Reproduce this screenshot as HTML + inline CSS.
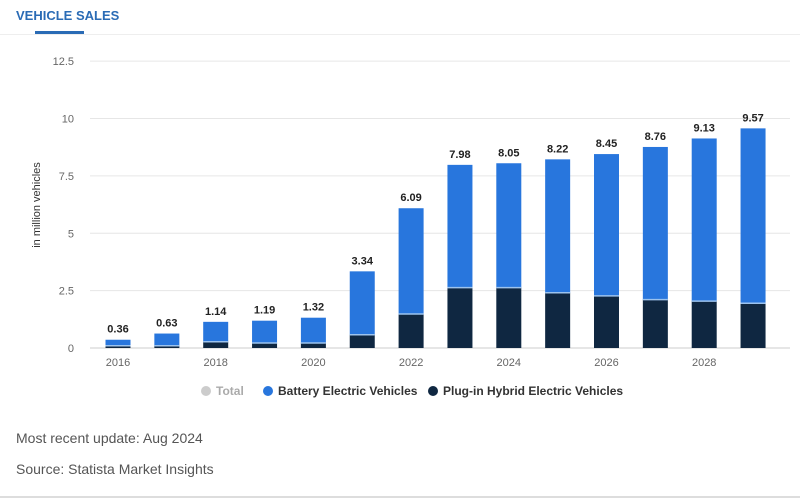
<!DOCTYPE html>
<html><head><meta charset="utf-8"><style>
body{margin:0;background:#fff;font-family:"Liberation Sans",sans-serif;}
#wrap{position:relative;width:800px;height:501px;overflow:hidden;background:#fff}
.t{position:absolute;white-space:nowrap}
</style></head><body>
<div id="wrap">
<div class="t" style="left:16px;top:8px;font-size:13px;font-weight:bold;color:#2a6bb5">VEHICLE SALES</div>
<div style="position:absolute;left:35px;top:31px;width:49px;height:3px;background:#2a6bb5"></div>
<div style="position:absolute;left:0;top:34px;width:800px;height:1px;background:#eee"></div>
<svg id="chart" width="800" height="420" style="position:absolute;left:0;top:0"></svg>
<div class="t" style="left:16px;top:430px;font-size:14px;color:#555">Most recent update: Aug 2024</div>
<div class="t" style="left:16px;top:461px;font-size:14px;color:#555">Source: Statista Market Insights</div>
<div style="position:absolute;left:0;top:496px;width:800px;height:2px;background:#ddd"></div>
</div>
<script>
const years=[2016,2017,2018,2019,2020,2021,2022,2023,2024,2025,2026,2027,2028,2029];
const totals=[0.36,0.63,1.14,1.19,1.32,3.34,6.09,7.98,8.05,8.22,8.45,8.76,9.13,9.57];
const phev=[0.1,0.1,0.27,0.22,0.22,0.58,1.48,2.63,2.63,2.41,2.27,2.11,2.04,1.95];
const yTicks=[0,2.5,5,7.5,10,12.5];
const yTickLabels=["0","2.5","5","7.5","10","12.5"];
const NS="http://www.w3.org/2000/svg";
const svg=document.getElementById('chart');
const y0=348,pxPerUnit=22.95,x0=118,step=48.85,bw=25;
const ys=v=>y0-v*pxPerUnit;
const xs=i=>x0+i*step;
function mk(tag,attrs,txt){const e=document.createElementNS(NS,tag);for(const k in attrs)e.setAttribute(k,attrs[k]);if(txt!==undefined)e.textContent=txt;svg.appendChild(e);return e;}
yTicks.forEach((v,i)=>{
  const l=mk('line',{x1:90,x2:790,y1:ys(v),y2:ys(v),stroke:i===0?'#ccc':'#e6e6e6','stroke-width':1});
  
  
  const t=mk('text',{x:74,y:ys(v)+4,'text-anchor':'end','font-size':11,fill:'#666','font-family':'Liberation Sans, sans-serif'},yTickLabels[i]);
  
  
});
const yt=mk('text',{x:0,y:0,transform:'translate(40,205) rotate(-90)','text-anchor':'middle','font-size':11,fill:'#333','font-family':'Liberation Sans, sans-serif'},'in million vehicles');


years.forEach((yr,i)=>{
  const cx=xs(i);
  const b=mk('rect',{x:cx-bw/2,y:ys(totals[i]),width:bw,height:(totals[i]-phev[i])*pxPerUnit,fill:'#2876dd'});
  
  
  const p=mk('rect',{x:cx-bw/2,y:ys(phev[i]),width:bw,height:phev[i]*pxPerUnit,fill:'#0f2741'});
  
  
  const s=mk('line',{x1:cx-bw/2,x2:cx+bw/2,y1:ys(phev[i]),y2:ys(phev[i]),stroke:'#9cc3ee','stroke-width':1.5});
  
  
  const v=mk('text',{x:cx,y:ys(totals[i])-7,'text-anchor':'middle','font-size':11,'font-weight':'bold',fill:'#222','font-family':'Liberation Sans, sans-serif'},totals[i].toFixed(2));
  
  
  if(yr%2===0){
    const t=mk('text',{x:cx,y:366,'text-anchor':'middle','font-size':11,fill:'#666','font-family':'Liberation Sans, sans-serif'},String(yr));
    
    
  }
});
const legend=[['Total','#ccc','#aaa',206],['Battery Electric Vehicles','#2876dd','#333',268],['Plug-in Hybrid Electric Vehicles','#0f2741','#333',433]];
legend.forEach(([n,c,tc,x])=>{
  const dot=mk('circle',{cx:x,cy:391,r:5,fill:c});
  
  
  const t=mk('text',{x:x+10,y:395,'font-size':12,'font-weight':'bold',fill:tc,'font-family':'Liberation Sans, sans-serif'},n);
  
  
});
</script>
</body></html>
